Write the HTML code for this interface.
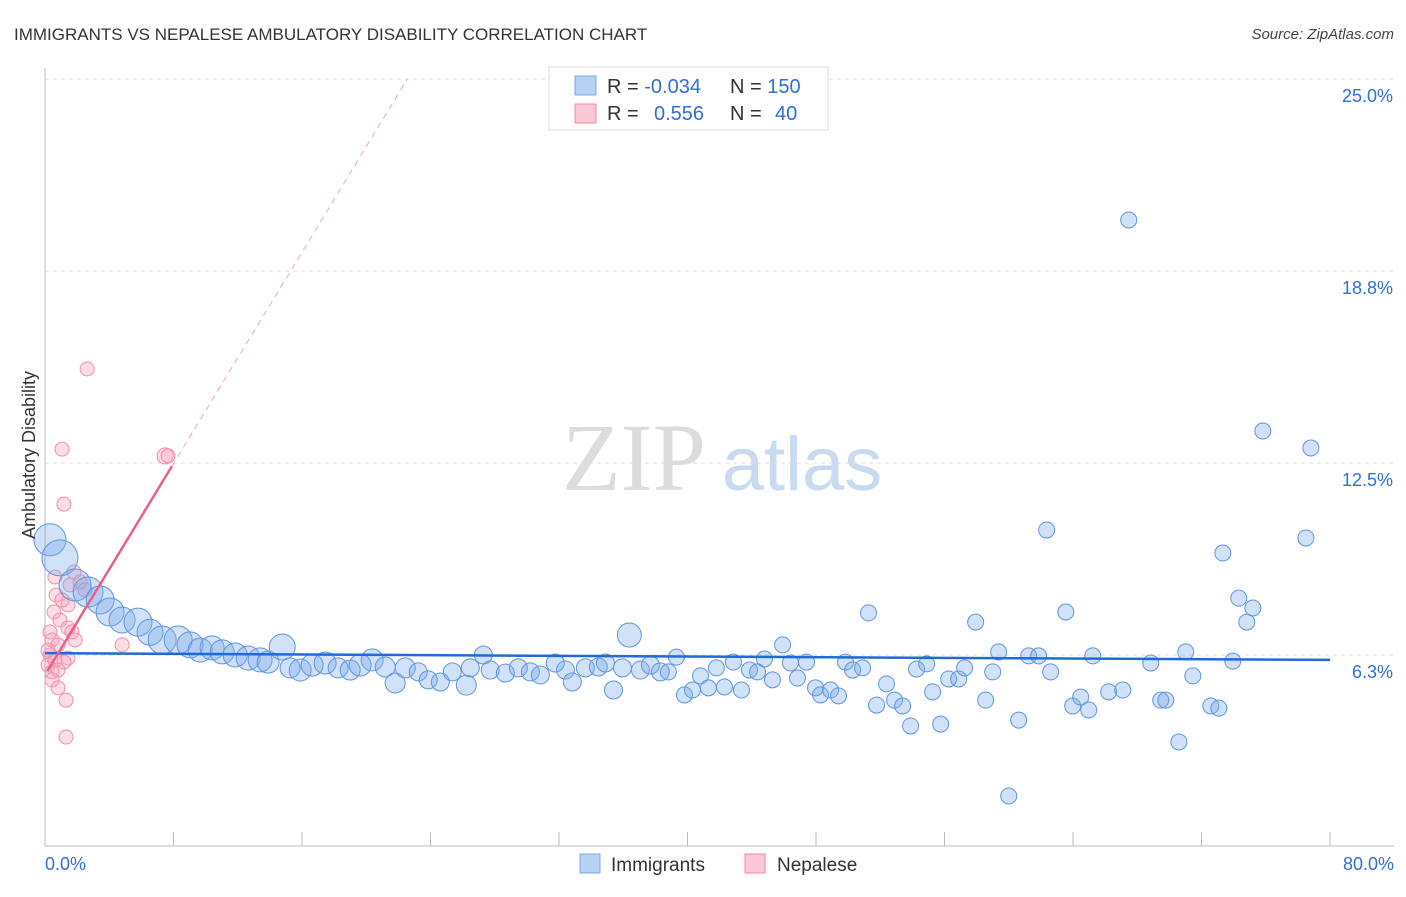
<!DOCTYPE html>
<html><head><meta charset="utf-8"><style>
body{margin:0;background:#fff;font-family:"Liberation Sans",sans-serif}
svg text{font-family:"Liberation Sans",sans-serif}
</style></head><body>
<svg id="chart" width="1406" height="892">
<text x="14" y="40" font-size="17" fill="#333">IMMIGRANTS VS NEPALESE AMBULATORY DISABILITY CORRELATION CHART</text>
<text x="1394" y="39" font-size="15" fill="#444" text-anchor="end" font-style="italic">Source: ZipAtlas.com</text>
<g>
<text x="634" y="490" font-size="96" fill="#dcdcdc" text-anchor="middle" font-family="Liberation Serif,serif" style="font-family:'Liberation Serif',serif">ZIP</text>
<text x="802" y="490" font-size="76" fill="#c8d9f0" text-anchor="middle">atlas</text>
</g>
<g id="grid"></g><g id="axes"></g><g id="pink"></g><g id="blue"></g><g id="trends"></g>
<text x="35" y="455" font-size="18" fill="#333" text-anchor="middle" transform="rotate(-90 35 455)">Ambulatory Disability</text>
<g>
<rect x="549" y="67" width="279" height="63" fill="#fff" stroke="#ddd"/>
<rect x="575" y="76" width="21" height="19" fill="#b7d1f5" stroke="#7aa8e8"/>
<rect x="575" y="104" width="21" height="19" fill="#fcc8d6" stroke="#f08aa6"/>
<text x="607" y="93" font-size="20" fill="#333">R = <tspan fill="#2f6fd6">-0.034</tspan></text>
<text x="730" y="93" font-size="20" fill="#333">N = <tspan fill="#2f6fd6">150</tspan></text>
<text x="607" y="120" font-size="20" fill="#333">R = <tspan fill="#2f6fd6" x="654">0.556</tspan></text>
<text x="730" y="120" font-size="20" fill="#333">N = <tspan fill="#2f6fd6" x="775">40</tspan></text>
</g>
<g>
<rect x="580" y="854" width="20" height="19" fill="#b7d1f5" stroke="#7aa8e8"/>
<text x="611" y="871" font-size="19" fill="#333">Immigrants</text>
<rect x="745" y="854" width="20" height="19" fill="#fcc8d6" stroke="#f08aa6"/>
<text x="777" y="871" font-size="19" fill="#333">Nepalese</text>
</g>
</svg>
<script>
const blueX=[0.31,0.93,1.87,2.68,3.43,4.05,4.80,5.79,6.54,7.29,8.29,9.03,9.66,10.40,11.03,11.84,12.65,13.39,13.89,14.77,15.26,15.89,16.63,17.44,18.25,19.00,19.62,20.37,21.18,21.80,22.43,23.24,23.86,24.61,25.36,26.23,26.48,27.29,27.72,28.66,29.47,30.22,30.84,31.77,32.40,32.83,33.64,34.45,34.89,35.39,36.38,35.95,37.07,37.69,38.31,38.81,39.31,39.81,40.31,40.81,41.30,41.80,42.30,42.86,43.36,43.86,44.36,44.79,45.29,45.92,46.41,46.85,47.41,47.97,48.28,48.91,49.40,49.84,50.28,50.90,51.27,51.77,52.39,52.89,53.39,53.89,54.26,54.89,55.26,55.76,56.26,56.88,57.25,57.94,58.56,59.00,59.37,60.00,60.62,61.24,61.86,62.36,62.61,63.55,63.98,64.48,64.98,65.23,66.22,67.10,67.47,68.84,69.46,69.78,70.59,71.02,71.46,72.58,73.08,73.33,73.95,74.32,74.82,75.20,75.82,78.50,78.81];
const blueY=[10.0,9.41,8.53,8.30,8.04,7.65,7.39,7.32,6.99,6.74,6.74,6.58,6.41,6.48,6.35,6.25,6.15,6.09,6.02,6.51,5.83,5.76,5.92,5.99,5.83,5.76,5.92,6.09,5.86,5.34,5.83,5.70,5.44,5.37,5.70,5.27,5.83,6.25,5.76,5.66,5.83,5.70,5.60,5.99,5.76,5.37,5.83,5.86,5.99,5.11,6.90,5.83,5.76,5.92,5.70,5.70,6.18,4.95,5.11,5.57,5.18,5.83,5.21,6.02,5.11,5.76,5.70,6.12,5.44,6.58,5.99,5.50,6.02,5.18,4.95,5.11,4.92,6.02,5.76,5.83,7.62,4.62,5.31,4.78,4.59,3.94,5.79,5.96,5.05,4.00,5.47,5.47,5.83,7.32,4.78,5.70,6.35,1.66,4.13,6.22,6.22,10.32,5.70,7.65,4.59,4.88,4.46,6.22,5.05,5.11,20.41,5.99,4.78,4.78,3.42,6.35,5.57,4.59,4.52,9.57,6.05,8.10,7.32,7.78,13.54,10.06,12.99];
const blueSize=[16,18,16,15,14,14,13,14,13,14,14,13,12,12,12,12,12,12,11,13,10,11,11,11,10,10,11,11,10,10,10,9,9,9,9,10,9,9,9,9,9,9,9,9,9,9,9,9,9,9,12,9,9,9,9,8];
const pinkX=[0.62,0.69,0.56,0.31,0.44,0.31,0.19,0.44,0.81,1.31,1.31,1.06,1.18,2.62,7.48,7.66,0.93,1.43,1.68,1.43,1.56,1.43,2.18,2.49,0.81,0.62,0.19,4.80,1.87,1.18,0.81,0.44,1.81,1.06];
const pinkY=[8.79,8.20,7.65,7.00,6.74,6.25,5.92,5.70,5.18,4.78,3.58,12.95,11.16,15.56,12.73,12.73,7.39,7.13,7.00,6.15,8.53,7.88,8.63,8.37,6.58,6.09,6.41,6.58,6.74,6.02,5.76,5.44,8.95,8.04];
const yTicks=[6.25,12.5,18.75,25];
const yTickLabels=["6.3%","12.5%","18.8%","25.0%"];
const blueTrend=[6.31,6.09];
const pinkTrend={intercept:5.6,slope:0.86};
const NS="http://www.w3.org/2000/svg";
const xs=v=>45+v/80*1285, ys=v=>847-v/6.25*192;
function mk(parent,tag,attrs){const e=document.createElementNS(NS,tag);for(const k in attrs)e.setAttribute(k,attrs[k]);document.getElementById(parent).appendChild(e);return e;}
yTicks.forEach((t,i)=>{
 const g=mk('grid','line',{x1:45,x2:1394,y1:ys(t),y2:ys(t),stroke:'#ddd','stroke-dasharray':'4,4'});
 
 
 const l=mk('grid','text',{x:1393,y:ys(t)+23,'font-size':18,fill:'#2f6fd6','text-anchor':'end'});
 l.textContent=yTickLabels[i];
 
 
});
const ax=mk('axes','line',{x1:45,x2:45,y1:68,y2:846,stroke:'#bbb'});


const bx=mk('axes','line',{x1:45,x2:1394,y1:846,y2:846,stroke:'#bbb'});


for(let i=0;i<=10;i++){const t=mk('axes','line',{x1:xs(i*8),x2:xs(i*8),y1:832,y2:846,stroke:'#bbb'});
 
 }
[["0.0%",45,'start'],["80.0%",1394,'end']].forEach(a=>{const t=mk('axes','text',{x:a[1],y:870,'font-size':18,fill:'#2f6fd6','text-anchor':a[2]});t.textContent=a[0];
 
 });
pinkX.forEach((v,i)=>{const c=mk('pink','circle',{cx:xs(v),cy:ys(pinkY[i]),r:i===14?8:7,fill:'rgba(248,160,185,0.35)',stroke:'#f090aa','stroke-width':1});
 
 });
blueX.forEach((v,i)=>{const c=mk('blue','circle',{cx:xs(v),cy:ys(blueY[i]),r:blueSize[i]||8,fill:'rgba(120,170,235,0.35)',stroke:'#5f95e0','stroke-width':1});
 
 });
const bt=mk('trends','line',{x1:xs(0),y1:ys(blueTrend[0]),x2:xs(80),y2:ys(blueTrend[1]),stroke:'#1f6ad8','stroke-width':2.5});


const pe=(25-pinkTrend.intercept)/pinkTrend.slope;
const pd=mk('trends','line',{x1:xs(7.9),y1:ys(pinkTrend.intercept+pinkTrend.slope*7.9),x2:xs(pe),y2:ys(25),stroke:'#f0a0b8','stroke-width':1,'stroke-dasharray':'6,5'});


const pt=mk('trends','line',{x1:xs(0.15),y1:ys(pinkTrend.intercept+pinkTrend.slope*0.15),x2:xs(7.9),y2:ys(pinkTrend.intercept+pinkTrend.slope*7.9),stroke:'#e8608a','stroke-width':2.5});


</script>
</body></html>
